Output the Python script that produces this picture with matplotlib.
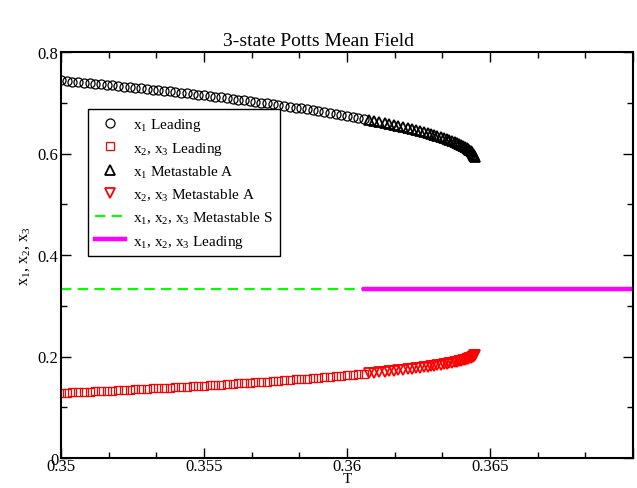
import matplotlib
matplotlib.use("Agg")
import matplotlib.pyplot as plt
from matplotlib.ticker import MultipleLocator, FixedLocator

plt.rcParams['font.family'] = ['Liberation Serif', 'DejaVu Serif']
plt.rcParams['mathtext.fontset'] = 'custom'
plt.rcParams['mathtext.rm'] = 'Liberation Serif'
plt.rcParams['mathtext.it'] = 'Liberation Serif:italic'

# Leading branch (T < transition)
T_lead = [0.3500, 0.3502, 0.3504, 0.3506, 0.3508, 0.3510, 0.3512, 0.3514, 0.3516, 0.3518,
          0.3520, 0.3522, 0.3524, 0.3526, 0.3528, 0.3530, 0.3532, 0.3534, 0.3536, 0.3538,
          0.3540, 0.3542, 0.3544, 0.3546, 0.3548, 0.3550, 0.3552, 0.3554, 0.3556, 0.3558,
          0.3560, 0.3562, 0.3564, 0.3566, 0.3568, 0.3570, 0.3572, 0.3574, 0.3576, 0.3578,
          0.3580, 0.3582, 0.3584, 0.3586, 0.3588, 0.3590, 0.3592, 0.3594, 0.3596, 0.3598,
          0.3600, 0.3602, 0.3604, 0.3606]
x1_lead = [0.7439, 0.7429, 0.7418, 0.7408, 0.7397, 0.7386, 0.7375, 0.7364, 0.7352, 0.7341,
           0.7330, 0.7319, 0.7307, 0.7296, 0.7284, 0.7272, 0.7260, 0.7248, 0.7236, 0.7224,
           0.7212, 0.7198, 0.7185, 0.7172, 0.7159, 0.7146, 0.7132, 0.7119, 0.7105, 0.7091,
           0.7077, 0.7062, 0.7048, 0.7033, 0.7018, 0.7003, 0.6988, 0.6972, 0.6956, 0.6939,
           0.6923, 0.6906, 0.6888, 0.6870, 0.6852, 0.6833, 0.6814, 0.6798, 0.6778, 0.6758,
           0.6738, 0.6717, 0.6696, 0.6674]
x23_lead = [0.1281, 0.1286, 0.1291, 0.1296, 0.1302, 0.1307, 0.1313, 0.1318, 0.1324, 0.1330,
            0.1335, 0.1341, 0.1347, 0.1352, 0.1358, 0.1364, 0.1370, 0.1376, 0.1382, 0.1388,
            0.1394, 0.1401, 0.1408, 0.1414, 0.1421, 0.1427, 0.1434, 0.1441, 0.1448, 0.1455,
            0.1462, 0.1469, 0.1476, 0.1484, 0.1491, 0.1499, 0.1506, 0.1514, 0.1522, 0.1531,
            0.1539, 0.1547, 0.1556, 0.1565, 0.1574, 0.1584, 0.1593, 0.1601, 0.1611, 0.1621,
            0.1631, 0.1642, 0.1652, 0.1663]

# Metastable A branch
T_meta = [0.36076, 0.36095, 0.36113, 0.36132, 0.36148, 0.36164, 0.36180, 0.36196, 0.36213,
          0.36227, 0.36241, 0.36254, 0.36268, 0.36282, 0.36294, 0.36304, 0.36316, 0.36327,
          0.36339, 0.36348, 0.36357, 0.36366, 0.36376, 0.36384, 0.36391, 0.36398, 0.36405,
          0.36411, 0.36418, 0.36422, 0.36427, 0.36432, 0.36436, 0.36440, 0.36443, 0.36445,
          0.36447]
x1_meta = [0.666, 0.664, 0.662, 0.660, 0.658, 0.656, 0.654, 0.652, 0.650,
           0.648, 0.646, 0.644, 0.642, 0.640, 0.638, 0.636, 0.634, 0.632,
           0.630, 0.628, 0.626, 0.624, 0.622, 0.620, 0.618, 0.616, 0.614,
           0.612, 0.610, 0.608, 0.606, 0.604, 0.602, 0.600, 0.598, 0.596,
           0.594]
x23_meta = [0.167, 0.168, 0.169, 0.170, 0.171, 0.172, 0.173, 0.174, 0.175,
            0.176, 0.177, 0.178, 0.179, 0.180, 0.181, 0.182, 0.183, 0.184,
            0.185, 0.186, 0.187, 0.188, 0.189, 0.190, 0.191, 0.192, 0.193,
            0.194, 0.195, 0.196, 0.197, 0.198, 0.199, 0.200, 0.201, 0.202,
            0.203]

# Symmetric solution x1 = x2 = x3 = 1/3
T_symS = [0.3500, 0.3607]
x_symS = [1/3, 1/3]
T_symL = [0.3606, 0.3700]
x_symL = [1/3, 1/3]

xticks = [0.35, 0.355, 0.36, 0.365, 0.37]
xticklabels = ['0.35', '0.355', '0.36', '0.365', '']
yticks = [0.0, 0.2, 0.4, 0.6, 0.8]
yticklabels = ['0', '0.2', '0.4', '0.6', '0.8']

labels = ['x$_1$ Leading', 'x$_2$, x$_3$ Leading', 'x$_1$ Metastable A',
          'x$_2$, x$_3$ Metastable A', 'x$_1$, x$_2$, x$_3$ Metastable S',
          'x$_1$, x$_2$, x$_3$ Leading']

fig = plt.figure(figsize=(6.37, 4.89), dpi=100)
ax = fig.add_axes([61/637, 30/489, 572/637, 406/489])

ax.plot(T_lead, x1_lead, linestyle='none', marker='o', ms=6.5, mfc='none', mec='black', mew=0.9, label=labels[0])
ax.plot(T_lead, x23_lead, linestyle='none', marker='s', ms=6, mfc='none', mec='red', mew=0.9, label=labels[1])
ax.plot(T_meta, x1_meta, linestyle='none', marker='^', ms=6.5, mfc='none', mec='black', mew=1.3, label=labels[2])
ax.plot(T_meta, x23_meta, linestyle='none', marker='v', ms=6.5, mfc='none', mec='red', mew=1.3, label=labels[3])
ax.plot(T_symS, x_symS, color='#00ff00', linestyle=(0, (5, 3)), lw=1.5, label=labels[4])
ax.plot(T_symL, x_symL, color='#ff00ff', linestyle='-', lw=3.2, label=labels[5])

ax.set_xlim(0.35, 0.37)
ax.set_ylim(0, 0.8)
ax.xaxis.set_major_locator(FixedLocator(xticks))
ax.set_xticklabels(xticklabels)
ax.xaxis.set_minor_locator(MultipleLocator(0.005/3))
ax.yaxis.set_major_locator(FixedLocator(yticks))
ax.set_yticklabels(yticklabels)
ax.yaxis.set_minor_locator(MultipleLocator(0.1))
ax.tick_params(which='both', direction='in', top=True, right=True, labelsize=12, width=1)
ax.tick_params(which='major', length=7)
ax.tick_params(which='minor', length=4)
ax.tick_params(axis='x', pad=0)
ax.tick_params(axis='y', pad=2)
for s in ax.spines.values():
    s.set_linewidth(1.5)

ax.set_xlabel('T', fontsize=11, labelpad=-1.2)
ax.set_ylabel('x$_1$, x$_2$, x$_3$', fontsize=11.5, labelpad=4)
fig.text(0.5, 1 - 41/489, '3-state Potts Mean Field', fontsize=14, ha='center', va='center')

leg = ax.legend(loc='upper left', bbox_to_anchor=(27/572, 1 - 57/406), fontsize=11,
                frameon=True, fancybox=False, edgecolor='black', framealpha=1,
                borderaxespad=0, handlelength=2.0, handletextpad=0.5, labelspacing=0.45,
                borderpad=0.45)
leg.get_frame().set_linewidth(1.0)

fig.savefig('out.png', dpi=100)
